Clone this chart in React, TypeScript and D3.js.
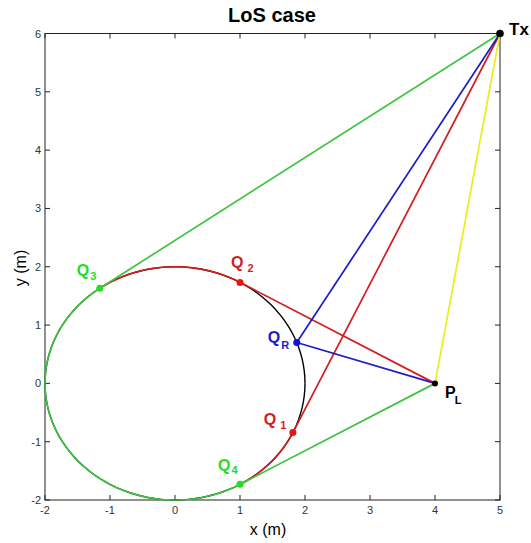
import React from 'react';
import * as d3 from 'd3';

// scene values (metres)
const xTicks = [-2, -1, 0, 1, 2, 3, 4, 5];
const yTicks = [-2, -1, 0, 1, 2, 3, 4, 5, 6];
const circleCenter = [0, 0];
const circleRadius = 2;
const txPos = [5, 6];
const plPos = [4, 0];
const q1 = [1.813, -0.844];
const q2 = [1.0, 1.732];
const q3 = [-1.157, 1.631];
const q4 = [1.0, -1.732];
const qR = [1.873, 0.7];

// rays: [from, to, colour key]
const rays: [number[], number[], string][] = [
  [txPos, q3, 'green'],
  [plPos, q4, 'green'],
  [txPos, q1, 'red'],
  [plPos, q2, 'red'],
  [txPos, qR, 'blue'],
  [qR, plPos, 'blue'],
  [txPos, plPos, 'yellow'],
];

// arcs on the circle, counter-clockwise from first point to second
const arcs: [number[], number[], string][] = [
  [q3, q4, 'green'],
  [q4, q1, 'red'],
  [q2, q3, 'red'],
];

const colors: Record<string, string> = {
  green: '#3ec43e',
  red: '#d21e1e',
  blue: '#1c1cc8',
  yellow: '#ecec1e',
  black: '#000',
};
const dotColors: Record<string, string> = {
  green: '#22dd22',
  red: '#ee1111',
  blue: '#1010dd',
};

const W = 531;
const H = 543;

export default function App() {
  document.body.style.margin = '0';

  const x = d3.scaleLinear().domain([-2, 5]).range([45, 500]);
  const y = d3.scaleLinear().domain([-2, 6]).range([500, 33.5]);

  const line = d3
    .line<number[]>()
    .x(d => x(d[0]))
    .y(d => y(d[1]));

  const angleOf = (p: number[]) => Math.atan2(p[1] - circleCenter[1], p[0] - circleCenter[0]);
  const arcPath = (a: number[], b: number[]) => {
    const a0 = angleOf(a);
    let a1 = angleOf(b);
    while (a1 < a0) a1 += 2 * Math.PI;
    const pts = d3.range(0, 121).map(i => {
      const t = a0 + ((a1 - a0) * i) / 120;
      return [circleCenter[0] + circleRadius * Math.cos(t), circleCenter[1] + circleRadius * Math.sin(t)];
    });
    return line(pts) || '';
  };
  const fullCircle = arcPath(
    [circleCenter[0] + circleRadius, circleCenter[1]],
    [circleCenter[0] + circleRadius, circleCenter[1] - 0.0001]
  );

  const x0 = x.range()[0];
  const x1 = x.range()[1];
  const y0 = y.range()[0];
  const y1 = y.range()[1];
  const tickLen = 5;
  const font = 'Arial, "Liberation Sans", sans-serif';

  const qLabel = (p: number[], sub: string, color: string, dx: number, dy: number, subDx = 2, subDy = 4) => (
    <text x={x(p[0]) + dx} y={y(p[1]) + dy} fill={color} fontFamily={font} fontWeight="bold" fontSize={16}>
      Q
      <tspan dx={subDx} dy={subDy} fontSize={11}>
        {sub}
      </tspan>
    </text>
  );

  return (
    <svg width={W} height={H} style={{ display: 'block', background: '#fff' }}>
      <text x={272} y={22} textAnchor="middle" fontFamily={font} fontWeight="bold" fontSize={20}>
        LoS case
      </text>

      {/* box */}
      <rect x={x0} y={y1} width={x1 - x0} height={y0 - y1} fill="none" stroke="#222" strokeWidth={1} />

      {/* ticks */}
      {xTicks.map(t => (
        <g key={'x' + t}>
          <line x1={x(t)} x2={x(t)} y1={y0} y2={y0 - tickLen} stroke="#222" />
          <line x1={x(t)} x2={x(t)} y1={y1} y2={y1 + tickLen} stroke="#222" />
          <text x={x(t)} y={514} textAnchor="middle" fontFamily={font} fontSize={11} fill="#333">
            {t}
          </text>
        </g>
      ))}
      {yTicks.map(t => (
        <g key={'y' + t}>
          <line x1={x0} x2={x0 + tickLen} y1={y(t)} y2={y(t)} stroke="#222" />
          <line x1={x1} x2={x1 - tickLen} y1={y(t)} y2={y(t)} stroke="#222" />
          <text x={41} y={y(t) + 4} textAnchor="end" fontFamily={font} fontSize={11} fill="#333">
            {t}
          </text>
        </g>
      ))}

      <text x={268} y={535} textAnchor="middle" fontFamily={font} fontSize={16}>
        x (m)
      </text>
      <text transform={`translate(26, 268) rotate(-90)`} textAnchor="middle" fontFamily={font} fontSize={16}>
        y (m)
      </text>

      {/* circle */}
      <path d={fullCircle} fill="none" stroke="#000" strokeWidth={1.4} />
      {arcs.map(([a, b, c], i) => (
        <path key={'arc' + i} d={arcPath(a, b)} fill="none" stroke={colors[c]} strokeWidth={1.7} />
      ))}

      {/* rays */}
      {rays.map(([a, b, c], i) => (
        <path key={'ray' + i} d={line([a, b]) || ''} fill="none" stroke={colors[c]} strokeWidth={1.7} />
      ))}

      {/* points */}
      <circle cx={x(q1[0])} cy={y(q1[1])} r={3.5} fill={dotColors.red} />
      <circle cx={x(q2[0])} cy={y(q2[1])} r={3.5} fill={dotColors.red} />
      <circle cx={x(q3[0])} cy={y(q3[1])} r={3.5} fill={dotColors.green} />
      <circle cx={x(q4[0])} cy={y(q4[1])} r={3.5} fill={dotColors.green} />
      <circle cx={x(qR[0])} cy={y(qR[1])} r={3.5} fill={dotColors.blue} />
      <circle cx={x(txPos[0])} cy={y(txPos[1])} r={3.8} fill="#000" />
      <circle cx={x(plPos[0])} cy={y(plPos[1])} r={3} fill="#000" />

      {/* labels */}
      {qLabel(q3, '3', dotColors.green, -23, -12.5, 1)}
      {qLabel(q2, '2', colors.red, -9, -14.5, 4)}
      {qLabel(qR, 'R', colors.blue, -29, 0, 1, 6)}
      {qLabel(q1, '1', colors.red, -29, -8, 4)}
      {qLabel(q4, '4', dotColors.green, -22, -13.5, 1, 3)}
      <text x={x(plPos[0]) + 10} y={y(plPos[1]) + 14.5} fontFamily={font} fontWeight="bold" fontSize={16}>
        P
        <tspan dx={-1} dy={6} fontSize={11}>
          L
        </tspan>
      </text>
      <text x={x(txPos[0]) + 9} y={y(txPos[1]) + 1.5} fontFamily={font} fontWeight="bold" fontSize={17}>
        Tx
      </text>
    </svg>
  );
}
